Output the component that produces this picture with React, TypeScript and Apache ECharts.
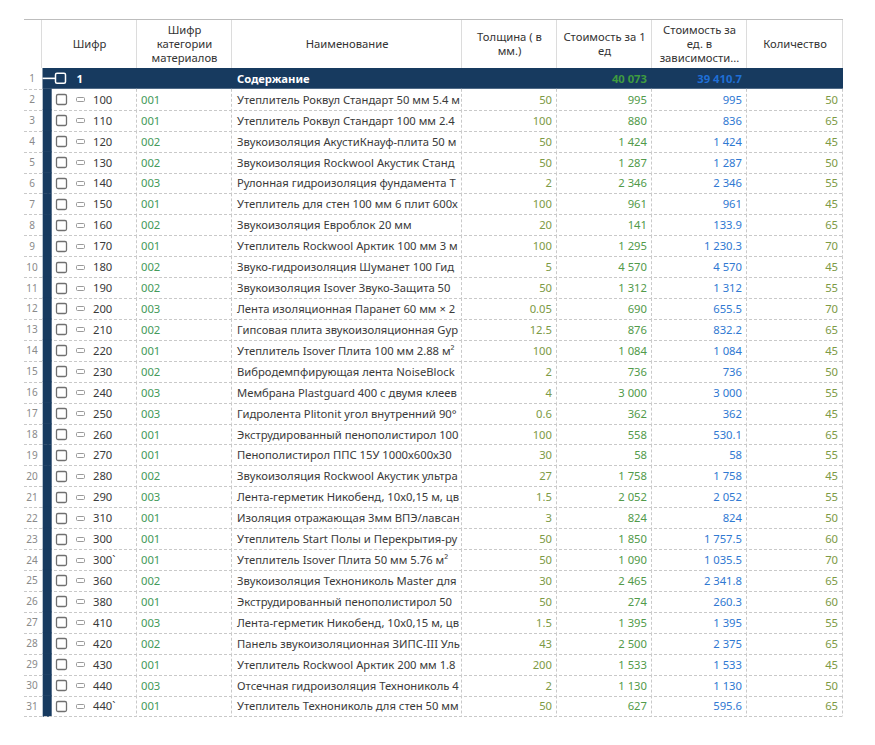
import React, { useEffect, useRef } from "react";
import * as echarts from "echarts";

const codes = ["1","100","110","120","130","140","150","160","170","180","190","200","210","220","230","240","250","260","270","280","290","310","300","300`","360","380","410","420","430","440","440`"];
const categoryCodes = ["","001","001","002","002","003","001","002","001","002","002","003","002","001","002","003","003","001","001","002","003","001","001","001","002","001","003","002","001","003","001"];
const names = [
  "Содержание",
  "Утеплитель Роквул Стандарт 50 мм 5.4 м²",
  "Утеплитель Роквул Стандарт 100 мм 2.4 м²",
  "Звукоизоляция АкустиКнауф-плита 50 мм",
  "Звукоизоляция Rockwool Акустик Стандарт",
  "Рулонная гидроизоляция фундамента Технониколь",
  "Утеплитель для стен 100 мм 6 плит 600х1200",
  "Звукоизоляция Евроблок 20 мм",
  "Утеплитель Rockwool Арктик 100 мм 3 м²",
  "Звуко-гидроизоляция Шуманет 100 Гидро",
  "Звукоизоляция Isover Звуко-Защита 50 мм",
  "Лента изоляционная Паранет 60 мм × 25 м",
  "Гипсовая плита звукоизоляционная Gyproc",
  "Утеплитель Isover Плита 100 мм 2.88 м²",
  "Вибродемпфирующая лента NoiseBlock",
  "Мембрана Plastguard 400 с двумя клеевыми",
  "Гидролента Plitonit угол внутренний 90°",
  "Экструдированный пенополистирол 100 мм",
  "Пенополистирол ППС 15У 1000х600х30",
  "Звукоизоляция Rockwool Акустик ультратонкий",
  "Лента-герметик Никобенд, 10х0,15 м, цвет",
  "Изоляция отражающая 3мм ВПЭ/лавсан",
  "Утеплитель Start Полы и Перекрытия-рулон",
  "Утеплитель Isover Плита 50 мм 5.76 м²",
  "Звукоизоляция Технониколь Master для",
  "Экструдированный пенополистирол 50 мм",
  "Лента-герметик Никобенд, 10х0,15 м, цвет",
  "Панель звукоизоляционная ЗИПС-III Ультра",
  "Утеплитель Rockwool Арктик 200 мм 1.8 м²",
  "Отсечная гидроизоляция Технониколь 4",
  "Утеплитель Технониколь для стен 50 мм",
];
const thickness = [null,50,100,50,50,2,100,20,100,5,50,0.05,12.5,100,2,4,0.6,100,30,27,1.5,3,50,50,30,50,1.5,43,200,2,50];
const costPerUnit = [40073,995,880,1424,1287,2346,961,141,1295,4570,1312,690,876,1084,736,3000,362,558,58,1758,2052,824,1850,1090,2465,274,1395,2500,1533,1130,627];
const costAdjusted = [39410.7,995,836,1424,1287,2346,961,133.9,1230.3,4570,1312,655.5,832.2,1084,736,3000,362,530.1,58,1758,2052,824,1757.5,1035.5,2341.8,260.3,1395,2375,1533,1130,595.6];
const quantity = [null,50,65,45,50,55,45,65,70,45,55,70,65,45,50,55,45,65,55,45,55,50,60,70,65,60,55,65,45,50,65];
const headers = [
  "Шифр",
  "Шифр\nкатегории\nматериалов",
  "Наименование",
  "Толщина ( в\nмм.)",
  "Стоимость за 1\nед",
  "Стоимость за\nед. в\nзависимости...",
  "Количество",
];
const rowLabels = codes.map((_, i) => String(i + 1));

const FONT = '"Noto Sans", "DejaVu Sans", sans-serif';
const NAVY = "#173a5f";
const GRID_LEFT = 24;
const GRID_TOP = 67.9;
const ROW_H = 20.92;
const TABLE_W = 819;
const colEdges = [0, 18, 113, 208, 438, 533, 628, 723, 819];
const DASH = "#c9c9c9";
const NAME_W = 223;

let measureCtx: CanvasRenderingContext2D | null = null;
const fitText = (s: string, font: string, maxW: number) => {
  if (!measureCtx) measureCtx = document.createElement("canvas").getContext("2d");
  if (!measureCtx) return s;
  measureCtx.font = font;
  if (measureCtx.measureText(s).width <= maxW) return s;
  let out = s;
  while (out.length > 0 && measureCtx.measureText(out).width > maxW) out = out.slice(0, -1);
  return out;
};

const fmt = (v: number | null) => {
  if (v === null || v === undefined) return "";
  const [ip, dp] = String(v).split(".");
  const s = ip.replace(/\B(?=(\d{3})+(?!\d))/g, " ");
  return dp ? s + "." + dp : s;
};

const BASE_FONT = `11.25px ${FONT}`;
const BOLD_FONT = `bold 11.25px ${FONT}`;

const txt = (x: number, y: number, text: string, style: any) => ({
  type: "text",
  x,
  y,
  silent: true,
  style: { text, font: BASE_FONT, fill: "#333", align: "left", verticalAlign: "middle", ...style },
});

const renderItem = (params: any, api: any) => {
  const i = api.value(1) as number;
  const cy = api.coord([0, i])[1];
  const h = api.size([0, 1])[1];
  const top = cy - h / 2;
  const bottom = cy + h / 2;
  const X = (u: number) => api.coord([u, i])[0];
  const children: any[] = [];
  const summary = i === 0;

  children.push(txt(X(8), cy, rowLabels[i], { fill: "#8a8a8a", font: `10px ${FONT}`, align: "center" }));

  if (summary) {
    children.push({ type: "rect", shape: { x: X(18.5), y: top, width: X(819) - X(18.5), height: h }, style: { fill: NAVY } });
    children.push({ type: "line", shape: { x1: X(18.5), y1: cy, x2: X(31), y2: cy }, style: { stroke: "#fff", lineWidth: 1.6 } });
    children.push({ type: "rect", shape: { x: X(31.5), y: cy - 5, width: 10, height: 10, r: 1.5 }, style: { fill: "none", stroke: "#fff", lineWidth: 1.5 } });
    children.push(txt(X(52.5), cy, codes[i], { fill: "#fff", font: BOLD_FONT }));
    children.push(txt(X(213), cy, names[i], { fill: "#fff", font: BOLD_FONT }));
    children.push(txt(X(623), cy, fmt(costPerUnit[i]), { fill: "#3f9c3f", font: BOLD_FONT, align: "right" }));
    children.push(txt(X(718), cy, fmt(costAdjusted[i]), { fill: "#1f6fd6", font: BOLD_FONT, align: "right" }));
    children.push({ type: "line", shape: { x1: X(0), y1: Math.round(bottom) + 0.5, x2: X(18), y2: Math.round(bottom) + 0.5 }, style: { stroke: DASH, lineWidth: 1, lineDash: [3, 2] } });
  } else {
    children.push({ type: "rect", shape: { x: X(18.7), y: top - 0.3, width: 9, height: h + 0.6 }, style: { fill: NAVY } });
    children.push({ type: "line", shape: { x1: X(0), y1: Math.round(bottom) + 0.5, x2: X(819), y2: Math.round(bottom) + 0.5 }, style: { stroke: DASH, lineWidth: 1, lineDash: [3, 2] } });
    for (let k = 2; k < colEdges.length; k++) {
      const vx = Math.round(X(colEdges[k])) - 0.5;
      children.push({ type: "line", shape: { x1: vx, y1: top, x2: vx, y2: bottom }, style: { stroke: DASH, lineWidth: 1, lineDash: [3, 2] } });
    }
    children.push({ type: "rect", shape: { x: Math.round(X(31.5)) + 0.5, y: Math.round(cy - 5) + 0.5, width: 10, height: 10, r: 1.5 }, style: { fill: "#fff", stroke: "#707070", lineWidth: 1.3 } });
    children.push({ type: "rect", shape: { x: Math.round(X(51.5)) + 0.5, y: Math.round(cy - 2) + 0.5, width: 8, height: 4, r: 1 }, style: { fill: "#fff", stroke: "#9a9a9a", lineWidth: 1 } });
    children.push(txt(X(69), cy, codes[i], { fill: "#3a3a3a" }));
    children.push(txt(X(117), cy, categoryCodes[i], { fill: "#449a5a" }));
    children.push(txt(X(213), cy, fitText(names[i], BASE_FONT, NAME_W), { fill: "#3a3a3a" }));
    children.push(txt(X(528), cy, fmt(thickness[i]), { fill: "#7d9a45", align: "right" }));
    children.push(txt(X(623), cy, fmt(costPerUnit[i]), { fill: "#529a4a", align: "right" }));
    children.push(txt(X(718), cy, fmt(costAdjusted[i]), { fill: "#3079d2", align: "right" }));
    children.push(txt(X(814), cy, fmt(quantity[i]), { fill: "#7d9a45", align: "right" }));
  }
  return { type: "group", children };
};

export default function App() {
  const ref = useRef<HTMLDivElement>(null);
  useEffect(() => {
    if (!ref.current) return;
    const chart = echarts.init(ref.current, null, { renderer: "svg" });
    const headerGraphics: any[] = [];
    headerGraphics.push({
      type: "line",
      shape: { x1: GRID_LEFT, y1: 19.5, x2: GRID_LEFT + TABLE_W, y2: 19.5 },
      style: { stroke: "#bdbdbd", lineWidth: 1 },
      silent: true,
    });
    for (let k = 1; k < colEdges.length; k++) {
      const vx = Math.round(GRID_LEFT + colEdges[k]) - 0.5;
      headerGraphics.push({
        type: "line",
        shape: { x1: vx, y1: 20, x2: vx, y2: GRID_TOP },
        style: { stroke: "#dcdcdc", lineWidth: 1 },
        silent: true,
      });
    }
    headers.forEach((h, k) => {
      const cx = GRID_LEFT + (colEdges[k + 1] + colEdges[k + 2]) / 2;
      headerGraphics.push({
        type: "text",
        x: cx,
        y: 43.5,
        silent: true,
        style: {
          text: h,
          font: BASE_FONT,
          fill: "#333",
          align: "center",
          verticalAlign: "middle",
          lineHeight: 14,
        },
      });
    });

    chart.setOption({
      animation: false,
      backgroundColor: "#fff",
      grid: { left: GRID_LEFT, top: GRID_TOP, width: TABLE_W, height: ROW_H * codes.length },
      xAxis: { type: "value", min: 0, max: TABLE_W, show: false },
      yAxis: { type: "category", data: rowLabels, inverse: true, show: false },
      graphic: headerGraphics,
      series: [
        {
          type: "custom",
          silent: true,
          renderItem,
          data: codes.map((_, i) => [0, i]),
          encode: { x: 0, y: 1 },
          clip: false,
        },
      ],
    });
    return () => chart.dispose();
  }, []);
  return <div ref={ref} style={{ position: "fixed", left: 0, top: 0, width: 875, height: 745 }} />;
}
